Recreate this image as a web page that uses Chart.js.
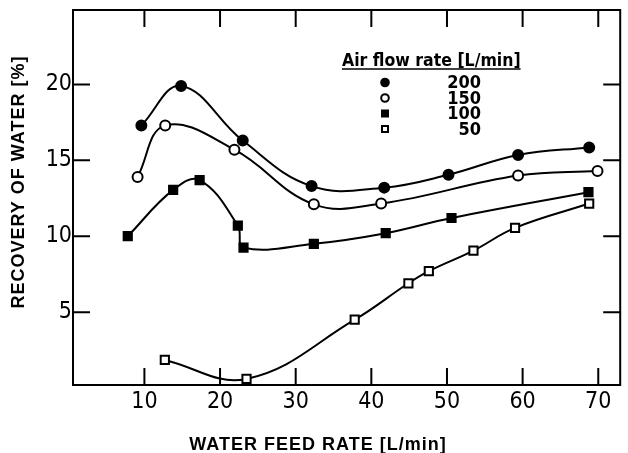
<!DOCTYPE html>
<html>
<head>
<meta charset="utf-8">
<script src="https://cdn.jsdelivr.net/npm/chart.js@4.4.1/dist/chart.umd.min.js"></script>
<style>
    html, body { margin: 0; padding: 0; background: #fff; }
    #wrap { width: 628px; height: 453px; }
</style>
</head>
<body>
<div id="wrap"><canvas id="recovery-chart"></canvas></div>
<script>
// tick labels
const xTickLabels = [10, 20, 30, 40, 50, 60, 70];
const yTickLabels = [5, 10, 15, 20];

// air flow rate series (water feed rate, recovery %)
const seriesNames = ['200', '150', '100', '50'];
const air200X = [9.6, 14.85, 23.0, 32.1, 41.7, 50.2, 59.4, 68.8];
const air200Y = [17.3, 19.9, 16.3, 13.3, 13.2, 14.05, 15.35, 15.85];
const air150X = [9.1, 12.75, 21.9, 32.4, 41.3, 59.4, 69.9];
const air150Y = [13.9, 17.3, 15.7, 12.1, 12.15, 14.0, 14.3];
const air100X = [7.8, 13.8, 17.3, 22.35, 23.1, 32.4, 41.9, 50.6, 68.7];
const air100Y = [10.0, 13.05, 13.7, 10.7, 9.25, 9.5, 10.2, 11.2, 12.9];
const air50X = [12.7, 23.5, 37.8, 44.9, 47.6, 53.5, 59.0, 68.8];
const air50Y = [1.85, 0.6, 4.5, 6.9, 7.7, 9.05, 10.55, 12.15];

const legendTitle = 'Air flow rate [L/min]';
const xTitle = 'WATER FEED RATE [L/min]';
const yTitle = 'RECOVERY OF WATER [%]';

const canvas = document.getElementById('recovery-chart');

function toPoints(xs, ys) {
    return xs.map((x, i) => ({x: x, y: ys[i]}));
}

function makeDataset(name, xs, ys, style, filled) {
    return {
        label: name,
        data: toPoints(xs, ys),
        borderColor: '#000',
        borderWidth: 2,
        tension: 0.4,
        pointStyle: style,
        pointRadius: style === 'rect' ? 5.8 : 5,
        pointBorderWidth: 2,
        pointBorderColor: '#000',
        pointBackgroundColor: filled ? '#000' : '#fff'
    };
}

// frame, inward tick marks, axis titles and the in-plot legend
const framePlugin = {
    id: 'frame',
    afterDraw(chart) {
        const ctx = chart.ctx;
        const a = chart.chartArea;
        const xs = chart.scales.x;
        const ys = chart.scales.y;
        const tick = 17;
        ctx.save();
        ctx.strokeStyle = '#000';
        ctx.lineWidth = 2;
        ctx.strokeRect(a.left, a.top, a.right - a.left, a.bottom - a.top);
        xTickLabels.forEach(v => {
            const px = xs.getPixelForValue(v);
            ctx.beginPath();
            ctx.moveTo(px, a.bottom); ctx.lineTo(px, a.bottom - tick);
            ctx.moveTo(px, a.top); ctx.lineTo(px, a.top + tick);
            ctx.stroke();
        });
        yTickLabels.forEach(v => {
            const py = ys.getPixelForValue(v);
            ctx.beginPath();
            ctx.moveTo(a.left, py); ctx.lineTo(a.left + tick, py);
            ctx.moveTo(a.right, py); ctx.lineTo(a.right - tick, py);
            ctx.stroke();
        });

        // axis titles
        ctx.fillStyle = '#000';
        ctx.font = 'bold 18px "Liberation Sans", Arial, sans-serif';
        ctx.letterSpacing = '1px';
        ctx.textAlign = 'center';
        ctx.textBaseline = 'middle';
        ctx.fillText(xTitle, 318, 445);
        ctx.save();
        ctx.translate(19, 182);
        ctx.rotate(-Math.PI / 2);
        ctx.fillText(yTitle, 0, 0);
        ctx.restore();
        ctx.letterSpacing = '0px';

        // legend
        ctx.font = 'bold 17.5px "DejaVu Sans Condensed", "DejaVu Sans", sans-serif';
        ctx.textAlign = 'left';
        ctx.textBaseline = 'alphabetic';
        const tx = 342, ty = 66;
        ctx.fillText(legendTitle, tx, ty);
        const w = ctx.measureText(legendTitle).width;
        ctx.beginPath();
        ctx.lineWidth = 1.5;
        ctx.moveTo(tx, ty + 3); ctx.lineTo(tx + w, ty + 3);
        ctx.stroke();

        const rows = [82.5, 98, 113.5, 129];
        ctx.font = 'bold 18px "DejaVu Sans Condensed", "DejaVu Sans", sans-serif';
        ctx.textAlign = 'right';
        ctx.textBaseline = 'middle';
        chart.data.datasets.forEach((ds, i) => {
            const y = rows[i];
            const mx = 385;
            ctx.beginPath();
            ctx.lineWidth = 2;
            if (ds.pointStyle === 'rect') {
                ctx.rect(mx - 3, y - 3, 6, 6);
            } else {
                ctx.arc(mx, y, 3.8, 0, Math.PI * 2);
            }
            ctx.fillStyle = ds.pointBackgroundColor;
            ctx.fill();
            ctx.stroke();
            ctx.fillStyle = '#000';
            ctx.fillText(ds.label, 481, y + 1);
        });
        ctx.restore();
    }
};

const tickFont = {family: '"Liberation Sans Narrow", "DejaVu Sans Condensed", sans-serif', size: 23};

function noPadding(s) {
    s.paddingTop = 0;
    s.paddingBottom = 0;
    s.paddingLeft = 0;
    s.paddingRight = 0;
}

new Chart(canvas, {
    type: 'line',
    data: {
        datasets: [
            makeDataset(seriesNames[0], air200X, air200Y, 'circle', true),
            makeDataset(seriesNames[1], air150X, air150Y, 'circle', false),
            makeDataset(seriesNames[2], air100X, air100Y, 'rect', true),
            makeDataset(seriesNames[3], air50X, air50Y, 'rect', false)
        ]
    },
    options: {
        responsive: true,
        maintainAspectRatio: false,
        animation: false,
        layout: {padding: {top: 10, right: 7, left: 0, bottom: 0}},
        plugins: {
            legend: {display: false},
            tooltip: {enabled: false}
        },
        scales: {
            x: {
                type: 'linear',
                min: 0.56,
                max: 72.9,
                grid: {display: false, drawTicks: false},
                border: {display: false},
                ticks: {color: '#000', font: tickFont, padding: 3, maxRotation: 0},
                afterBuildTicks: s => { s.ticks = xTickLabels.map(v => ({value: v})); },
                afterFit: s => { s.height = 68; noPadding(s); }
            },
            y: {
                type: 'linear',
                min: 0.2,
                max: 24.9,
                grid: {display: false, drawTicks: false},
                border: {display: false},
                ticks: {color: '#000', font: tickFont, padding: 1},
                afterBuildTicks: s => { s.ticks = yTickLabels.map(v => ({value: v})); },
                afterFit: s => { s.width = 73; noPadding(s); }
            }
        }
    },
    plugins: [framePlugin]
});
</script>
</body>
</html>
